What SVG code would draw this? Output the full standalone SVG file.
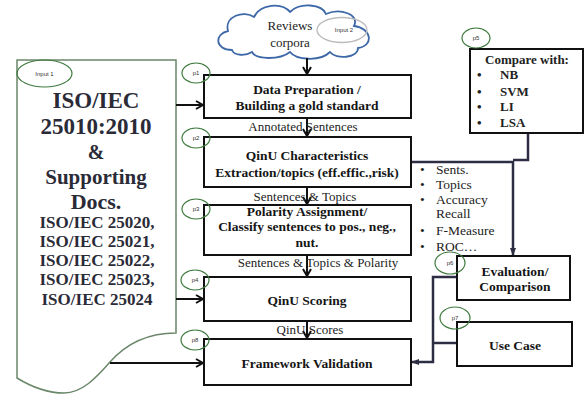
<svg xmlns="http://www.w3.org/2000/svg" width="584" height="394" viewBox="0 0 584 394">
<style>
.box{fill:#fff;stroke:#111;stroke-width:2}
.sf{font-family:"Liberation Serif","Times New Roman",Times,Tinos,"DejaVu Serif","Noto Serif",serif}
.bt{font-weight:bold;font-size:13.5px;fill:#151515;text-anchor:middle}
.lbl{font-size:13px;fill:#222;text-anchor:middle}
.doc{font-weight:bold;fill:#2b2b38;text-anchor:middle}
.pe{fill:none;stroke:#3f7a3f;stroke-width:1.2}
.pt{font-family:"Liberation Sans",Arial,sans-serif;font-size:6px;fill:#333;text-anchor:middle}
.ar{fill:none;stroke:#111;stroke-width:2}
.nv{fill:none;stroke:#2d2d44;stroke-width:2.5}
.li{font-size:13.5px;fill:#222}
.cb{font-weight:bold;font-size:13px;fill:#222}
</style>
<defs>
<marker id="ah" markerWidth="10" markerHeight="10" refX="8" refY="5" orient="auto" markerUnits="userSpaceOnUse">
<path d="M1,1 L8,5 L1,9" fill="none" stroke="#111" stroke-width="2"/>
</marker>
<marker id="ahn" markerWidth="10" markerHeight="10" refX="8" refY="5" orient="auto" markerUnits="userSpaceOnUse">
<path d="M1,2 L9,5 L1,8 Z" fill="#2d2d44"/>
</marker>
</defs>

<g id="input1">
<path d="M17,60 H176 V333 C145,333 125,345 110,362 C96,378 82,393 64,393 C45,393 30,386 17,378 Z" fill="#fff" stroke="#6a876a" stroke-width="1.5"/>
<ellipse cx="44.5" cy="73.5" rx="27.5" ry="13.5" fill="none" stroke="#3f7a3f" stroke-width="1.2"/>
<text x="44.5" y="75.5" class="pt">Input 1</text>
<text x="96" y="108" class="sf doc" font-size="23">ISO/IEC</text>
<text x="96" y="134" class="sf doc" font-size="23">25010:2010</text>
<text x="96" y="159" class="sf doc" font-size="20">&amp;</text>
<text x="96" y="184" class="sf doc" font-size="21">Supporting</text>
<text x="96" y="209" class="sf doc" font-size="22">Docs.</text>
<text x="97" y="228" class="sf doc" font-size="17">ISO/IEC 25020,</text>
<text x="97" y="247" class="sf doc" font-size="17">ISO/IEC 25021,</text>
<text x="97" y="266" class="sf doc" font-size="17">ISO/IEC 25022,</text>
<text x="97" y="285" class="sf doc" font-size="17">ISO/IEC 25023,</text>
<text x="97" y="305" class="sf doc" font-size="17">ISO/IEC 25024</text>
</g>

<g id="input2">
<path d="M232,50 C215,50 214,34 228,31 C224,16 244,10 254,17 C260,4 282,2 290,12 C300,2 322,4 326,14 C340,8 360,14 354,26 C372,28 374,46 358,48 C358,58 336,60 330,52 C320,62 296,60 290,52 C280,60 256,60 252,52 C246,56 234,56 232,50 Z" fill="#fff" stroke="#3d68a8" stroke-width="1.8"/>
<ellipse cx="342" cy="30" rx="25" ry="12.5" fill="none" stroke="#bbb" stroke-width="1.3"/>
<text x="344" y="32" class="pt">Input 2</text>
<text x="290" y="30" class="sf lbl">Reviews</text>
<text x="290" y="47" class="sf lbl">corpora</text>
</g>

<g id="connectors">
<path class="ar" d="M307,58 V74" marker-end="url(#ah)"/>
<path class="ar" d="M176,105 H203" marker-end="url(#ah)"/>
<path class="ar" d="M307,118 V136" marker-end="url(#ah)"/>
<path class="ar" d="M307,187 V204" marker-end="url(#ah)"/>
<path class="ar" d="M307,255 V276" marker-end="url(#ah)"/>
<path class="ar" d="M176,299 H203" marker-end="url(#ah)"/>
<path class="ar" d="M307,321 V338" marker-end="url(#ah)"/>
<path class="ar" d="M110,363 H203" marker-end="url(#ah)"/>
<path class="nv" d="M528,133 V160 H513"/>
<path class="nv" d="M411,162 H513 V255" marker-end="url(#ahn)"/>
<path class="nv" d="M457,277 H433 V362 H412" marker-end="url(#ahn)"/>
<path class="nv" d="M457,343 H433"/>
<text x="303" y="131" class="sf lbl">Annotated Sentences</text>
<text x="305" y="201" class="sf lbl">Sentences &amp; Topics</text>
<text x="318" y="267" class="sf lbl" font-size="11.5">Sentences &amp; Topics &amp; Polarity</text>
<text x="310" y="334" class="sf lbl">QinU Scores</text>
<text x="420" y="174" class="sf li">•</text><text x="436" y="174" class="sf li">Sents.</text>
<text x="420" y="189" class="sf li">•</text><text x="436" y="189" class="sf li">Topics</text>
<text x="420" y="204" class="sf li">•</text><text x="436" y="204" class="sf li">Accuracy</text>
<text x="436" y="218" class="sf li" font-size="11">Recall</text>
<text x="420" y="235" class="sf li">•</text><text x="436" y="235" class="sf li">F-Measure</text>
<text x="420" y="251" class="sf li">•</text><text x="436" y="251" class="sf li">ROC…</text>
</g>

<g id="p1">
<rect class="box" x="204" y="75" width="207" height="43"/>
<text x="307" y="94" class="sf bt">Data Preparation /</text>
<text x="307" y="110" class="sf bt">Building a gold standard</text>
<ellipse class="pe" cx="196" cy="73" rx="14" ry="10"/><text x="196" y="75" class="pt">p1</text>
</g>

<g id="p2">
<rect class="box" x="204" y="137" width="207" height="50"/>
<text x="307" y="160" class="sf bt">QinU Characteristics</text>
<text x="307" y="177" class="sf bt" font-size="14">Extraction/topics (eff.effic.,risk)</text>
<ellipse class="pe" cx="196" cy="138" rx="14" ry="10"/><text x="196" y="140" class="pt">p2</text>
</g>

<g id="p3">
<rect class="box" x="204" y="205" width="207" height="50"/>
<text x="307" y="216" class="sf bt">Polarity Assignment/</text>
<text x="307" y="231" class="sf bt">Classify sentences to pos., neg.,</text>
<text x="307" y="247" class="sf bt">nut.</text>
<ellipse class="pe" cx="196" cy="209" rx="14" ry="10"/><text x="196" y="211" class="pt">p3</text>
</g>

<g id="p4">
<rect class="box" x="204" y="277" width="207" height="44"/>
<text x="307" y="305" class="sf bt">QinU Scoring</text>
<ellipse class="pe" cx="195" cy="280" rx="14" ry="10"/><text x="195" y="282" class="pt">p4</text>
</g>

<g id="p8">
<rect class="box" x="204" y="339" width="207" height="46"/>
<text x="307" y="368" class="sf bt">Framework Validation</text>
<ellipse class="pe" cx="195" cy="340" rx="14" ry="10"/><text x="195" y="342" class="pt">p8</text>
</g>

<g id="p5">
<rect class="box" x="470" y="49" width="113" height="84"/>
<text x="527" y="64" class="sf cb" text-anchor="middle">Compare with:</text>
<text x="477" y="79" class="sf cb">•</text><text x="500" y="79" class="sf cb">NB</text>
<text x="477" y="96" class="sf cb">•</text><text x="500" y="96" class="sf cb">SVM</text>
<text x="477" y="111" class="sf cb">•</text><text x="500" y="111" class="sf cb">LI</text>
<text x="477" y="127" class="sf cb">•</text><text x="500" y="127" class="sf cb">LSA</text>
<ellipse class="pe" cx="476" cy="38" rx="14" ry="10"/><text x="476" y="40" class="pt">p5</text>
</g>

<g id="p6">
<rect class="box" x="457" y="256" width="113" height="44"/>
<text x="515" y="276" class="sf bt">Evaluation/</text>
<text x="515" y="291" class="sf bt">Comparison</text>
<ellipse class="pe" cx="450" cy="263" rx="15" ry="11"/><text x="450" y="265" class="pt">p6</text>
</g>

<g id="p7">
<rect class="box" x="457" y="322" width="115" height="44"/>
<text x="515" y="350" class="sf bt">Use Case</text>
<ellipse class="pe" cx="455" cy="318" rx="15" ry="11"/><text x="455" y="320" class="pt">p7</text>
</g>
</svg>
